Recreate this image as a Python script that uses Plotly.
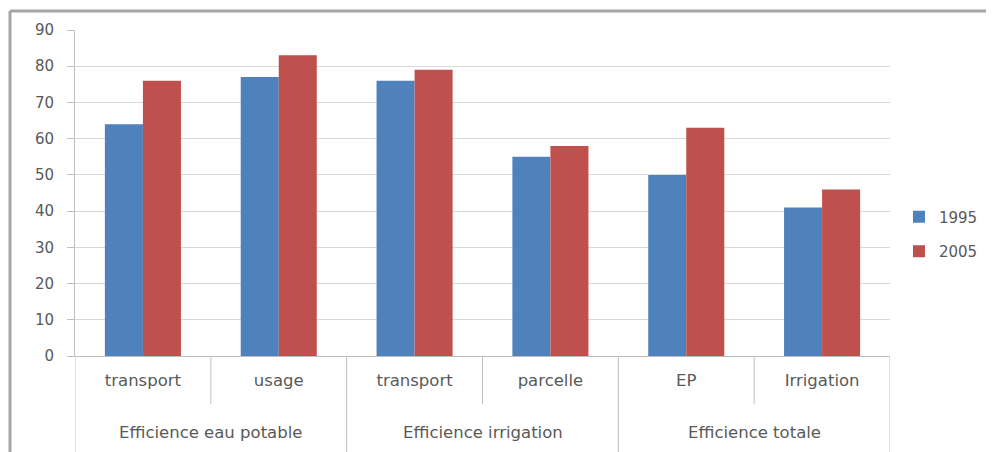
import plotly.graph_objects as go

groups = ["Efficience eau potable", "Efficience irrigation", "Efficience totale"]
subcats = ["transport", "usage", "transport", "parcelle", "EP", "Irrigation"]
group_of_sub = [0, 0, 1, 1, 2, 2]
v1995 = [64, 77, 76, 55, 50, 41]
v2005 = [76, 83, 79, 58, 63, 46]
yticks = [0, 10, 20, 30, 40, 50, 60, 70, 80, 90]

FONT = "DejaVu Sans"
FS = 15
FSX = 16.5
TXT = "#595959"
LINE = "#bfbfbf"

# the page body adds an 8px offset, so the figure is sized for the visible area
W, H = 986, 444
L, R, T, B = 67, 104, 22, 96
PH = H - T - B
PW = W - L - R

xpos = list(range(len(subcats)))

fig = go.Figure()
fig.add_trace(go.Bar(name="1995", x=xpos, y=v1995, legendgroup="a",
                     marker=dict(color="#4F81BD", line=dict(width=0))))
fig.add_trace(go.Bar(name="2005", x=xpos, y=v2005, legendgroup="b",
                     marker=dict(color="#C0504D", line=dict(width=0))))

fig.update_layout(
    width=W, height=H,
    margin=dict(l=L, r=R, t=T, b=B, autoexpand=False),
    barmode="group", bargap=0.44, bargroupgap=0,
    plot_bgcolor="white", paper_bgcolor="white",
    font=dict(family=FONT, size=FS, color=TXT),
    showlegend=True,
    legend=dict(x=1.011, y=0.374, xanchor="left", yanchor="middle",
                font=dict(size=15, color=TXT), tracegroupgap=12,
                itemwidth=30),
    xaxis=dict(range=[-0.5, len(subcats) - 0.5], tickvals=xpos, ticktext=subcats,
               showline=True, linecolor=LINE, linewidth=1, ticks="",
               showgrid=False, zeroline=False, ticklabelstandoff=9,
               tickfont=dict(size=FSX, color=TXT), fixedrange=True),
    yaxis=dict(range=[0, 90], tickvals=yticks, showgrid=True, gridcolor="#d9d9d9",
               showline=True, linecolor=LINE, ticks="outside", ticklen=7,
               tickcolor=LINE, zeroline=False, tickfont=dict(size=FS, color=TXT),
               ticklabelstandoff=10),
)

# inner dividers (between sub-categories inside a group)
for i in range(len(subcats) - 1):
    if group_of_sub[i] == group_of_sub[i + 1]:
        fig.add_shape(type="line", xref="x", yref="paper",
                      x0=i + 0.5, x1=i + 0.5, y0=0, y1=-48 / PH,
                      line=dict(color=LINE, width=1))
# outer dividers (group boundaries, including the edges)
bounds = [-0.5] + [i + 0.5 for i in range(len(subcats) - 1)
                   if group_of_sub[i] != group_of_sub[i + 1]] + [len(subcats) - 0.5]
for b in bounds:
    fig.add_shape(type="line", xref="x", yref="paper",
                  x0=b, x1=b, y0=0, y1=-B / PH,
                  line=dict(color=LINE, width=1))
# group labels
for gi, g in enumerate(groups):
    members = [i for i, k in enumerate(group_of_sub) if k == gi]
    fig.add_annotation(x=(members[0] + members[-1]) / 2, y=-76 / PH,
                       xref="x", yref="paper", text=g, showarrow=False,
                       font=dict(size=FSX, color=TXT), yanchor="middle")

# outer chart frame (top and left edges visible)
fig.add_shape(type="line", xref="paper", yref="paper",
              x0=-65 / PW, x1=1 + R / PW, y0=1 + 19 / PH, y1=1 + 19 / PH,
              line=dict(color="#a6a6a6", width=3))
fig.add_shape(type="line", xref="paper", yref="paper",
              x0=-65 / PW, x1=-65 / PW, y0=1 + 19 / PH, y1=-B / PH,
              line=dict(color="#a6a6a6", width=3))

fig.write_html("out.html")
